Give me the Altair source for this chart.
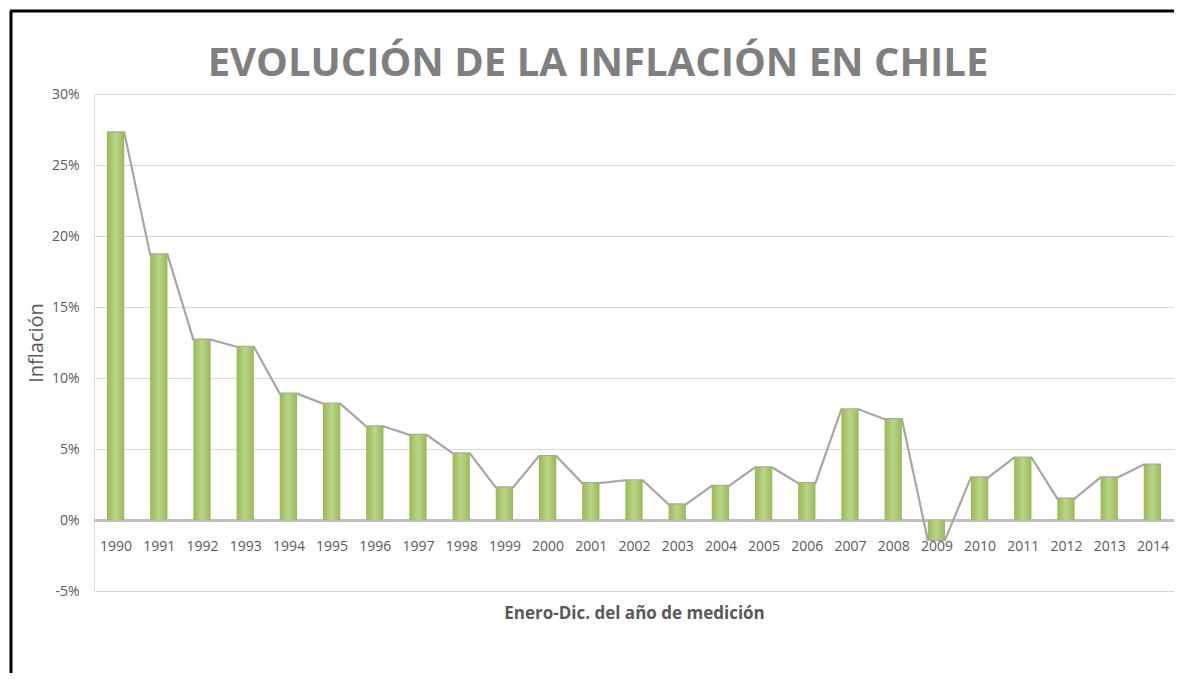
import altair as alt
import pandas as pd

# ---- data ----
years = list(range(1990, 2015))
inflacion = [27.3, 18.7, 12.7, 12.2, 8.9, 8.2, 6.6, 6.0, 4.7, 2.3,
             4.5, 2.6, 2.8, 1.1, 2.4, 3.7, 2.6, 7.8, 7.1, -1.4,
             3.0, 4.4, 1.5, 3.0, 3.9]
y_ticks = [-5, 0, 5, 10, 15, 20, 25, 30]

title_text = "EVOLUCIÓN DE LA INFLACIÓN EN CHILE"
x_title = "Enero-Dic. del año de medición"
y_title = "Inflación"

df = pd.DataFrame({"year": years, "inflacion": inflacion})

W, H = 1080, 497
HALF = 0.2
FONT = "Open Sans"
GRAY = "#595959"

xscale = alt.Scale(domain=[years[0] - 0.5, years[-1] + 0.5], nice=False, zero=False)
yscale = alt.Scale(domain=[y_ticks[0], y_ticks[-1]], nice=False, zero=False)

x_axis = alt.Axis(
    values=years, format="d", orient="bottom", offset=-71,
    title=x_title, titleFont=FONT, titleFontSize=17, titleFontWeight="bold",
    titleColor=GRAY, titleY=98, titleBaseline="alphabetic",
    labelFont=FONT, labelFontSize=14, labelColor=GRAY, labelPadding=19,
    labelFlush=False, labelOverlap=False,
    ticks=False, grid=False, domain=True, domainColor="#bfbfbf", domainWidth=3,
)
y_axis = alt.Axis(
    values=y_ticks, labelExpr="datum.value + '%'",
    title=y_title, titleFont=FONT, titleFontSize=20, titleFontWeight="normal",
    titleColor=GRAY, titleX=-58, titleY=H / 2, titleAngle=-90,
    titleBaseline="middle", titleAlign="center",
    labelFont=FONT, labelFontSize=14, labelColor=GRAY, labelPadding=15,
    labelFlush=False,
    ticks=False, domain=False, grid=True, gridColor="#d9d9d9", gridWidth=1,
)

base = alt.Chart(df).transform_calculate(
    x0=f"datum.year - {HALF}", x1=f"datum.year + {HALF}"
)

line = base.transform_fold(["x0", "x1"], as_=["side", "xpos"]).mark_line(
    color="#a6a6a6", strokeWidth=2.2
).encode(
    x=alt.X("xpos:Q", scale=xscale, axis=x_axis),
    y=alt.Y("inflacion:Q", scale=yscale, axis=y_axis),
    order="xpos:Q",
)

bar_fill = alt.LinearGradient(
    gradient="linear", x1=0, x2=1, y1=0, y2=0,
    stops=[
        alt.GradientStop(color="#98b956", offset=0),
        alt.GradientStop(color="#b9d68a", offset=0.5),
        alt.GradientStop(color="#98b956", offset=1),
    ],
)

bars = base.mark_bar(color=bar_fill).encode(
    x=alt.X("x0:Q", scale=xscale, axis=x_axis),
    x2="x1:Q",
    y=alt.Y("inflacion:Q", scale=yscale, axis=y_axis),
    y2=alt.datum(0),
)

frame_data = alt.Data(values=[{"k": 1}])
left_border = alt.Chart(frame_data).mark_rule(color="black", strokeWidth=3).encode(
    x=alt.value(-83), y=alt.value(-83), y2=alt.value(H + 120)
)
top_border = alt.Chart(frame_data).mark_rule(color="black", strokeWidth=3).encode(
    x=alt.value(-84), x2=alt.value(W + 10), y=alt.value(-83)
)

chart = alt.layer(line, bars, left_border, top_border).properties(
    width=W, height=H,
    title=alt.TitleParams(
        text=title_text, font=FONT, fontSize=40, fontWeight="bold",
        color="#7f7f7f", anchor="middle", dx=-36, dy=124, offset=18,
        baseline="alphabetic",
    ),
    autosize=alt.AutoSizeParams(type="none"),
    padding={"left": 86, "top": 86, "right": 0, "bottom": 82},
).configure_view(stroke=None).configure(background="white")

chart.save("out.html", embed_options={"renderer": "svg", "actions": False})
